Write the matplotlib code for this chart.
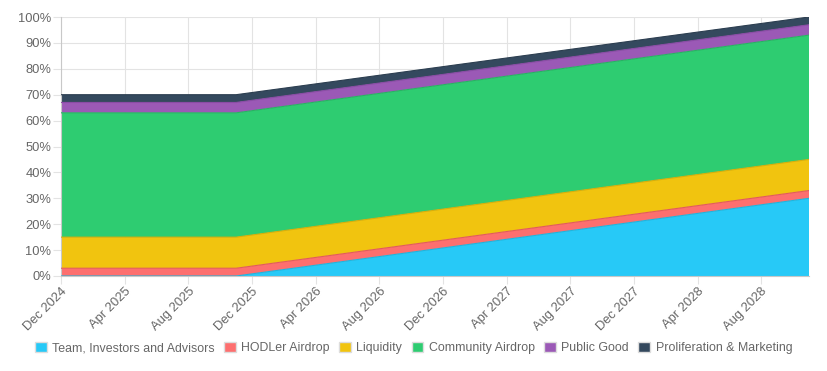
import matplotlib

matplotlib.use("Agg")
import matplotlib.pyplot as plt
from matplotlib.patches import Patch
from matplotlib.ticker import FuncFormatter, MultipleLocator
import numpy as np
import pandas as pd

plt.rcParams["font.family"] = ["Liberation Sans", "DejaVu Sans"]

# monthly, Dec 2024 .. Nov 2028 (48 points), % of supply unlocked
months = pd.date_range("2024-12-01", "2028-11-01", freq="MS")

team = [
    0, 0, 0, 0, 0, 0, 0, 0, 0, 0, 0, 0,
    0.83, 1.67, 2.5, 3.33, 4.17, 5.0, 5.83, 6.67, 7.5, 8.33, 9.17, 10.0,
    10.83, 11.67, 12.5, 13.33, 14.17, 15.0, 15.83, 16.67, 17.5, 18.33, 19.17, 20.0,
    20.83, 21.67, 22.5, 23.33, 24.17, 25.0, 25.83, 26.67, 27.5, 28.33, 29.17, 30.0,
]
hodler = [
    3, 3, 3, 3, 3, 3, 3, 3, 3, 3, 3, 3,
    3, 3, 3, 3, 3, 3, 3, 3, 3, 3, 3, 3,
    3, 3, 3, 3, 3, 3, 3, 3, 3, 3, 3, 3,
    3, 3, 3, 3, 3, 3, 3, 3, 3, 3, 3, 3,
]
liquidity = [
    12, 12, 12, 12, 12, 12, 12, 12, 12, 12, 12, 12,
    12, 12, 12, 12, 12, 12, 12, 12, 12, 12, 12, 12,
    12, 12, 12, 12, 12, 12, 12, 12, 12, 12, 12, 12,
    12, 12, 12, 12, 12, 12, 12, 12, 12, 12, 12, 12,
]
community = [
    48, 48, 48, 48, 48, 48, 48, 48, 48, 48, 48, 48,
    48, 48, 48, 48, 48, 48, 48, 48, 48, 48, 48, 48,
    48, 48, 48, 48, 48, 48, 48, 48, 48, 48, 48, 48,
    48, 48, 48, 48, 48, 48, 48, 48, 48, 48, 48, 48,
]
public_good = [
    4, 4, 4, 4, 4, 4, 4, 4, 4, 4, 4, 4,
    4, 4, 4, 4, 4, 4, 4, 4, 4, 4, 4, 4,
    4, 4, 4, 4, 4, 4, 4, 4, 4, 4, 4, 4,
    4, 4, 4, 4, 4, 4, 4, 4, 4, 4, 4, 4,
]
proliferation = [
    3, 3, 3, 3, 3, 3, 3, 3, 3, 3, 3, 3,
    3, 3, 3, 3, 3, 3, 3, 3, 3, 3, 3, 3,
    3, 3, 3, 3, 3, 3, 3, 3, 3, 3, 3, 3,
    3, 3, 3, 3, 3, 3, 3, 3, 3, 3, 3, 3,
]

series = [
    ("Team, Investors and Advisors", team, "#27c9f7", "#1fb4dd"),
    ("HODLer Airdrop", hodler, "#fd6f6f", "#e25b5b"),
    ("Liquidity", liquidity, "#f1c40f", "#d9ae08"),
    ("Community Airdrop", community, "#2ecc71", "#27b362"),
    ("Public Good", public_good, "#9b59b6", "#8a4ba5"),
    ("Proliferation & Marketing", proliferation, "#34495e", "#2c3e50"),
]

tick_idx = list(range(0, 48, 4))
tick_labels = [months[i].strftime("%b %Y") for i in tick_idx]

fig = plt.figure(figsize=(8.27, 3.71), dpi=100, facecolor="white")
ax = fig.add_axes([61 / 827, 1 - 276 / 371, 748 / 827, 259 / 371])

x = np.arange(len(months))
base = np.zeros(len(months))
handles = []
for name, values, face, edge in series:
    top = base + np.asarray(values, dtype=float)
    ax.fill_between(x, base, top, facecolor=face, edgecolor="none", zorder=2)
    ax.plot(x, top, color=edge, linewidth=0.8, zorder=3)
    handles.append(Patch(facecolor=face, edgecolor="#dddddd", linewidth=1.0, label=name))
    base = top

ax.set_xlim(0, len(months) - 1)
ax.set_ylim(0, 100)
ax.yaxis.set_major_locator(MultipleLocator(10))
ax.yaxis.set_major_formatter(FuncFormatter(lambda v, _: f"{v:.0f}%"))
ax.set_xticks(tick_idx)
ax.set_xticklabels(tick_labels, rotation=45, ha="right", rotation_mode="anchor")

ax.grid(True, color="#e3e3e3", linewidth=0.8, zorder=0)
ax.set_axisbelow(True)
for side in ("top", "right"):
    ax.spines[side].set_visible(False)
ax.spines["left"].set_color("#c8c8c8")
ax.spines["bottom"].set_color("#c8c8c8")
ax.tick_params(axis="both", colors="#e3e3e3", labelcolor="#666666", labelsize=9.3, length=5.5, width=0.8, pad=1.5)

fig.legend(
    handles=handles,
    loc="center",
    bbox_to_anchor=(0.5, 1 - 348 / 371),
    ncol=6,
    frameon=False,
    fontsize=8.9,
    labelcolor="#666666",
    handlelength=0.95,
    handleheight=0.95,
    handletextpad=0.45,
    columnspacing=0.75,
)

fig.savefig("out.png", dpi=100, facecolor="white")
